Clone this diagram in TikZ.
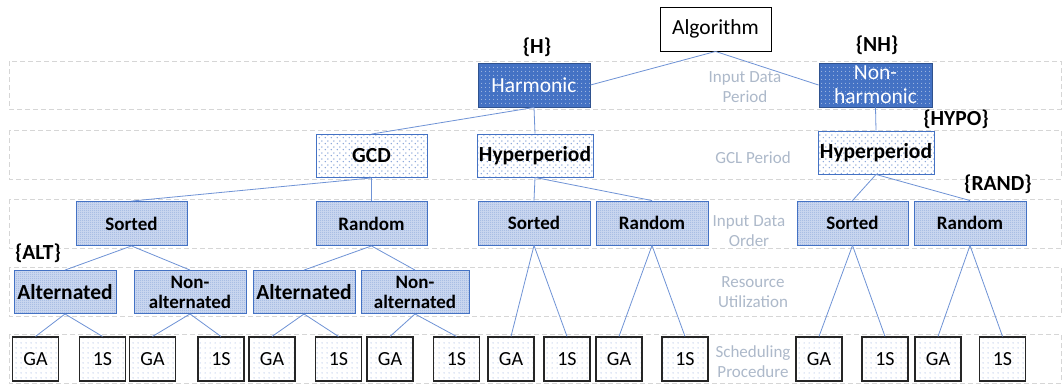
\documentclass[tikz,border=0pt]{standalone}
\usepackage{fontspec}
\setmainfont{Carlito}
\usetikzlibrary{patterns.meta}
\definecolor{hblue}{HTML}{4472C4}
\definecolor{hborder}{HTML}{2F528F}
\definecolor{lblue}{HTML}{8FAADC}
\definecolor{sfill}{HTML}{C9D6EF}
\definecolor{bandc}{HTML}{D6D6D6}
\definecolor{labc}{HTML}{ADB9CA}
\definecolor{linec}{HTML}{6F93D6}
\tikzdeclarepattern{name=finedots, type=uncolored,
  bounding box={(0pt,0pt) and (4pt,4pt)}, tile size={(4pt,4pt)},
  code={\pgfpathcircle{\pgfpoint{2pt}{2pt}}{0.6pt}\pgfusepath{fill}}}
\tikzdeclarepattern{name=leafdots, type=uncolored,
  bounding box={(0pt,0pt) and (4.5pt,4.5pt)}, tile size={(4.5pt,4.5pt)},
  code={\pgfpathcircle{\pgfpoint{2.25pt}{2.25pt}}{0.55pt}\pgfusepath{fill}}}
\tikzdeclarepattern{name=stagdots, type=uncolored,
  bounding box={(0pt,0pt) and (6pt,6pt)}, tile size={(6pt,6pt)},
  code={\pgfpathcircle{\pgfpoint{1.5pt}{1.5pt}}{0.85pt}\pgfpathcircle{\pgfpoint{4.5pt}{4.5pt}}{0.85pt}\pgfusepath{fill}}}
\tikzdeclarepattern{name=densedots, type=uncolored,
  bounding box={(0pt,0pt) and (2pt,2pt)}, tile size={(2pt,2pt)},
  code={\pgfpathcircle{\pgfpoint{1pt}{1pt}}{0.5pt}\pgfusepath{fill}}}
\begin{document}
\begin{tikzpicture}[x=1pt,y=-1pt,
  every node/.style={inner sep=0pt, align=center},
  base/.style={minimum height=44pt, line width=0.9pt},
  algbox/.style={base, draw=black, fill=white, font=\fontsize{21.5}{24}\selectfont},
  harmbox/.style={base, draw=hborder, preaction={fill=hblue}, pattern=finedots, pattern color=white!70!hblue, text=white, font=\fontsize{21.5}{24}\selectfont},
  periodbox/.style={base, minimum height=43pt, draw=hblue, preaction={fill=white}, pattern=stagdots, pattern color=lblue!85!hblue, font=\bfseries\fontsize{21.5}{24}\selectfont},
  orderbox/.style={base, draw=hblue, preaction={fill=sfill}, pattern=densedots, pattern color=lblue!60!hblue, font=\bfseries\fontsize{19}{20}\selectfont},
  altbox/.style={orderbox, minimum height=43pt, font=\bfseries\fontsize{21.5}{24}\selectfont},
  naltbox/.style={orderbox, minimum height=43pt, font=\bfseries\fontsize{19}{20}\selectfont},
  leafbox/.style={minimum width=46pt, minimum height=44pt, line width=1.1pt, draw=black!85, preaction={fill=white}, pattern=leafdots, pattern color=lblue!90!hblue, font=\fontsize{20}{24}\selectfont},
  band/.style={draw=bandc, dash pattern=on 5pt off 3pt, line width=1pt},
  bandlabel/.style={text=labc, font=\fontsize{17}{20}\selectfont},
  tag/.style={font=\bfseries\fontsize{21.5}{24}\selectfont},
  conn/.style={draw=linec, line width=0.8pt}]
\useasboundingbox (0,0) rectangle (1063,384);
\fill[white] (0,0) rectangle (1063,384);
% bands
\draw[band] (9,61) rectangle (1061,109);
\draw[band] (9,130) rectangle (1061,179);
\draw[band] (9,199) rectangle (1061,248);
\draw[band] (9,267) rectangle (1061,316);
\draw[band] (9,334) rectangle (1061,383);
% band labels
\node[bandlabel] (lb1) at (745,87) {Input Data\\Period};
\node[bandlabel] (lb2) at (753,158) {GCL Period};
\node[bandlabel] (lb3) at (749,231) {Input Data\\Order};
\node[bandlabel] (lb4) at (753,292) {Resource\\Utilization};
\node[bandlabel] (lb5) at (753,362) {Scheduling\\Procedure};
% nodes
\node[algbox, minimum width=111pt] (alg) at (715.5,29) {Algorithm};
\node[harmbox, minimum width=112pt] (harm) at (534,85) {Harmonic};
\node[harmbox, minimum width=113pt] (nonh) at (875.5,85) {Non-\\harmonic};
\node[periodbox, minimum width=111pt] (gcd) at (371.5,156) {GCD};
\node[periodbox, minimum width=116pt] (hyp1) at (535,155.5) {Hyperperiod};
\node[periodbox, minimum width=116pt] (hyp2) at (876,152.5) {Hyperperiod};
\node[orderbox, minimum width=111pt] (sort1) at (131.5,223.5) {Sorted};
\node[orderbox, minimum width=111pt] (rand1) at (371.5,223.5) {Random};
\node[orderbox, minimum width=112pt] (sort2) at (534,223) {Sorted};
\node[orderbox, minimum width=112pt] (rand2) at (652,223) {Random};
\node[orderbox, minimum width=111pt] (sort3) at (852.5,223) {Sorted};
\node[orderbox, minimum width=112pt] (rand3) at (970,223) {Random};
\node[altbox, minimum width=102pt] (alt1) at (65,292) {Alternated};
\node[naltbox, minimum width=112pt] (nalt1) at (190,292) {Non-\\alternated};
\node[altbox, minimum width=102pt] (alt2) at (304,292) {Alternated};
\node[naltbox, minimum width=108pt] (nalt2) at (415,292) {Non-\\alternated};
\node[leafbox] (l1) at (35.5,359) {GA};
\node[leafbox] (l2) at (102.5,359) {1S};
\node[leafbox] (l3) at (152.5,359) {GA};
\node[leafbox] (l4) at (221,359) {1S};
\node[leafbox] (l5) at (272,359) {GA};
\node[leafbox] (l6) at (338.5,359) {1S};
\node[leafbox] (l7) at (390,359) {GA};
\node[leafbox] (l8) at (456.5,359) {1S};
\node[leafbox] (l9) at (511,359) {GA};
\node[leafbox] (l10) at (567,359) {1S};
\node[leafbox] (l11) at (619,359) {GA};
\node[leafbox] (l12) at (685,359) {1S};
\node[leafbox] (l13) at (819,359) {GA};
\node[leafbox] (l14) at (885,359) {1S};
\node[leafbox] (l15) at (938,359) {GA};
\node[leafbox] (l16) at (1002.5,359) {1S};
% tags
\node[tag] (tH) at (537,47) {\{H\}};
\node[tag] (tNH) at (877,45) {\{NH\}};
\node[tag] (tHYPO) at (956,119) {\{HYPO\}};
\node[tag] (tRAND) at (998,184) {\{RAND\}};
\node[tag] (tALT) at (38,253) {\{ALT\}};
% connectors
\draw[conn] (alg.south) -- (harm.east);
\draw[conn] (alg.south) -- (nonh.west);
\draw[conn] (harm.south) -- (gcd.north);
\draw[conn] (harm.south) -- (hyp1.north);
\draw[conn] (nonh.south) -- (hyp2.north);
\draw[conn] (gcd.south) -- (sort1.north);
\draw[conn] (gcd.south) -- (rand1.north);
\draw[conn] (hyp1.south) -- (sort2.north);
\draw[conn] (hyp1.south) -- (rand2.north);
\draw[conn] (hyp2.south) -- (sort3.north);
\draw[conn] (hyp2.south) -- (rand3.north);
\draw[conn] (sort1.south) -- (alt1.north);
\draw[conn] (sort1.south) -- (nalt1.north);
\draw[conn] (rand1.south) -- (alt2.north);
\draw[conn] (rand1.south) -- (nalt2.north);
\draw[conn] (alt1.south) -- (l1.north);
\draw[conn] (alt1.south) -- (l2.north);
\draw[conn] (nalt1.south) -- (l3.north);
\draw[conn] (nalt1.south) -- (l4.north);
\draw[conn] (alt2.south) -- (l5.north);
\draw[conn] (alt2.south) -- (l6.north);
\draw[conn] (nalt2.south) -- (l7.north);
\draw[conn] (nalt2.south) -- (l8.north);
\draw[conn] (sort2.south) -- (l9.north);
\draw[conn] (sort2.south) -- (l10.north);
\draw[conn] (rand2.south) -- (l11.north);
\draw[conn] (rand2.south) -- (l12.north);
\draw[conn] (sort3.south) -- (l13.north);
\draw[conn] (sort3.south) -- (l14.north);
\draw[conn] (rand3.south) -- (l15.north);
\draw[conn] (rand3.south) -- (l16.north);
\end{tikzpicture}
\end{document}
